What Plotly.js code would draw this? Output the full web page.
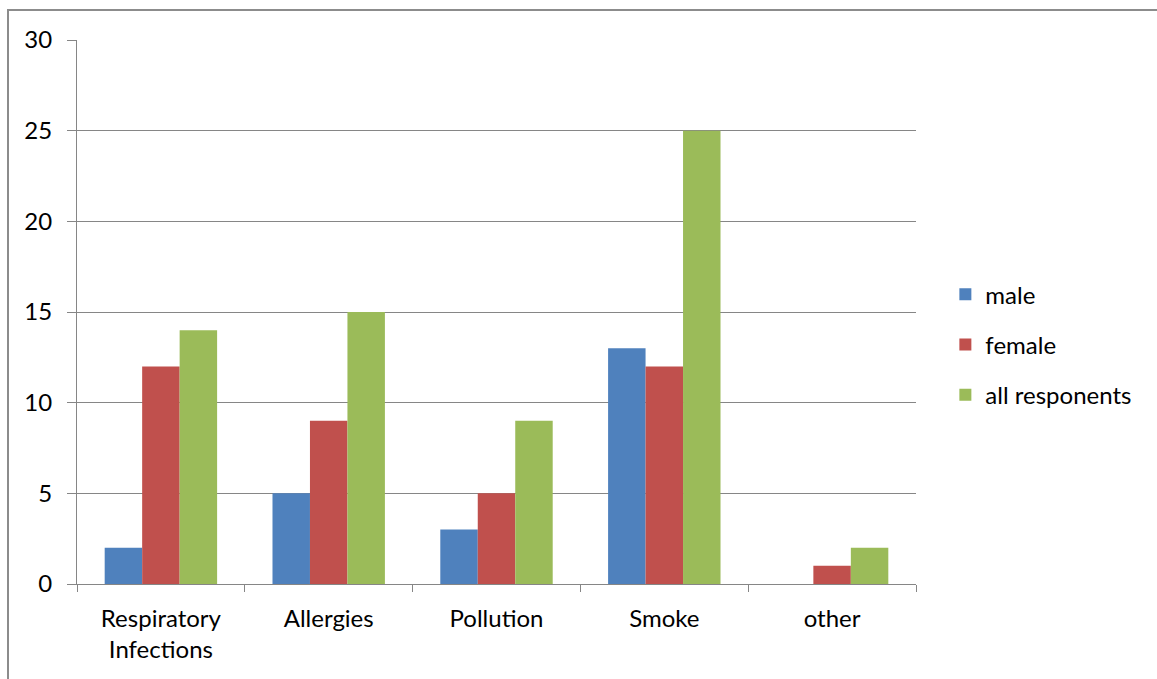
<!DOCTYPE html>
<html>
<head>
<meta charset="utf-8">
<script src="https://cdn.plot.ly/plotly-3.0.1.min.js"></script>
<style>
  html, body { margin: 0; padding: 0; background: #fff; }
  #wrap { position: relative; width: 1157px; height: 679px; }
  #chart { width: 1157px; height: 679px; }
  #frame { position: absolute; left: 7px; top: 9px; right: -10px; bottom: -10px;
           border-left: 2px solid #8c8c8c; border-top: 2px solid #8c8c8c; pointer-events: none; }
</style>
</head>
<body>
<div id="wrap">
  <div id="chart"></div>
  <div id="frame"></div>
</div>
<script>
// Causes reported by respondents
const categories = ["Respiratory<br>Infections", "Allergies", "Pollution", "Smoke", "other"];
const male = [2, 5, 3, 13, 0];
const female = [12, 9, 5, 12, 1];
const allRespondents = [14, 15, 9, 25, 2];
const seriesNames = ["male", "female", "all responents"];
const seriesColors = ["#4F81BD", "#C0504D", "#9BBB59"];
const yTicks = [0, 5, 10, 15, 20, 25, 30];

const seriesValues = [male, female, allRespondents];
const traces = seriesValues.map((vals, i) => ({
  type: "bar",
  x: categories,
  y: vals,
  name: seriesNames[i],
  legendgroup: "g" + i,
  marker: { color: seriesColors[i], line: { width: 0 } },
  hoverinfo: "x+y+name"
}));

const font = "Lato, 'Open Sans', 'Liberation Sans', sans-serif";

const layout = {
  width: 1157,
  height: 679,
  margin: { l: 77, r: 241, t: 40, b: 95 },
  paper_bgcolor: "#ffffff",
  plot_bgcolor: "#ffffff",
  barmode: "group",
  bargap: 0.33,
  bargroupgap: 0,
  font: { family: font, size: 24, color: "#000000" },
  showlegend: true,
  legend: {
    x: 1.035, y: 0.44, xanchor: "left", yanchor: "middle",
    font: { family: font, size: 24, color: "#000000" },
    tracegroupgap: 16,
    itemwidth: 30,
    bgcolor: "rgba(0,0,0,0)"
  },
  xaxis: {
    type: "category",
    tickson: "boundaries",
    ticks: "outside",
    ticklen: 7,
    tickcolor: "#868686",
    showline: true,
    linecolor: "#868686",
    linewidth: 1,
    showgrid: false,
    ticklabelstandoff: 13,
    tickfont: { family: font, size: 24, color: "#000000" },
    fixedrange: true
  },
  yaxis: {
    range: [0, 30],
    tickvals: yTicks,
    ticktext: yTicks.map(String),
    ticks: "outside",
    ticklen: 9,
    tickcolor: "#868686",
    showline: true,
    linecolor: "#868686",
    linewidth: 1,
    showgrid: true,
    gridcolor: "#868686",
    gridwidth: 1,
    zeroline: false,
    ticklabelstandoff: 10,
    tickfont: { family: font, size: 24, color: "#000000" },
    fixedrange: true
  }
};

Plotly.newPlot("chart", traces, layout, { displayModeBar: false, staticPlot: true });
</script>
</body>
</html>
